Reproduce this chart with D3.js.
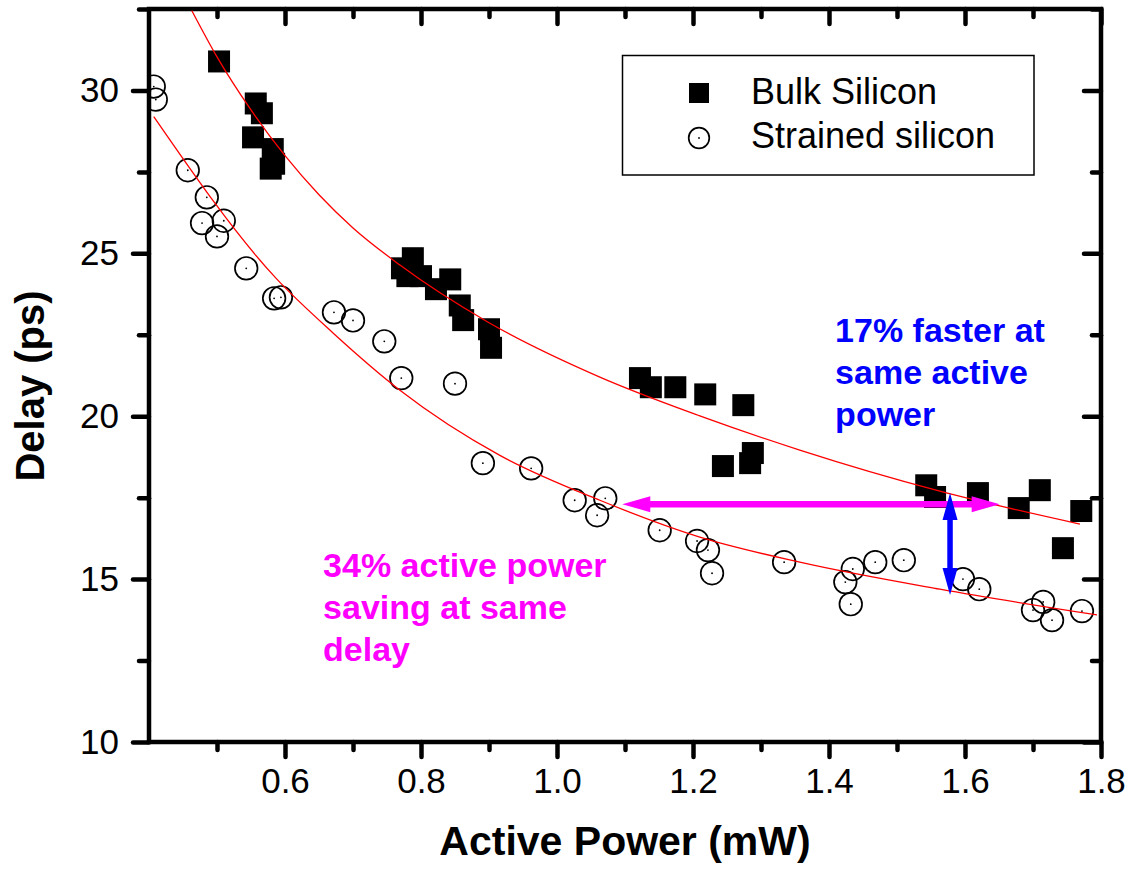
<!DOCTYPE html>
<html>
<head>
<meta charset="utf-8">
<script src="https://cdn.jsdelivr.net/npm/d3@7"></script>
<style>
  html, body { margin: 0; padding: 0; background: #fff; }
  svg { display: block; font-family: "Liberation Sans", Arial, sans-serif; }
</style>
</head>
<body>
<svg id="chart" width="1128" height="869"></svg>
<script>
// ---------------- data ----------------
const bulkX = [0.503, 0.557, 0.566, 0.553, 0.582, 0.584, 0.579,
  0.772, 0.788, 0.780, 0.800, 0.822, 0.843, 0.857, 0.862, 0.900, 0.903,
  1.122, 1.138, 1.174, 1.218, 1.274, 1.288, 1.244, 1.284,
  1.543, 1.556, 1.619, 1.679, 1.710, 1.771, 1.744];
const bulkY = [30.89, 29.60, 29.30, 28.56, 28.20, 27.75, 27.60,
  24.54, 24.85, 24.30, 24.30, 23.90, 24.20, 23.40, 22.95, 22.67, 22.10,
  21.17, 20.89, 20.89, 20.67, 20.34, 18.87, 18.47, 18.56,
  17.88, 17.52, 17.64, 17.18, 17.73, 17.09, 15.95];

const strainedX = [0.407, 0.410, 0.457, 0.485, 0.510, 0.478, 0.500, 0.543, 0.584, 0.594,
  0.672, 0.700, 0.746, 0.771, 0.850, 0.891, 0.962, 1.026, 1.059, 1.071,
  1.151, 1.206, 1.222, 1.228, 1.334, 1.435, 1.424, 1.432, 1.468, 1.510,
  1.597, 1.621, 1.700, 1.715, 1.728, 1.772];
const strainedY = [30.12, 29.72, 27.55, 26.72, 26.00, 25.93, 25.52, 24.54, 23.62, 23.65,
  23.19, 22.94, 22.30, 21.17, 21.00, 18.56, 18.40, 17.42, 16.96, 17.48,
  16.50, 16.17, 15.89, 15.18, 15.52, 15.31, 14.91, 14.23, 15.52, 15.58,
  15.00, 14.69, 14.05, 14.30, 13.74, 14.02];

// fitted curves
const fitBulkX = [0.463, 0.500, 0.550, 0.600, 0.650, 0.700, 0.769, 0.900, 1.063, 1.210, 1.357, 1.563, 1.769];
const fitBulkY = [32.45, 31.03, 29.40, 28.00, 26.80, 25.78, 24.64, 22.87, 21.20, 20.01, 18.96, 17.70, 16.69];
const fitStrX = [0.407, 0.587, 0.671, 0.769, 0.916, 1.063, 1.210, 1.357, 1.563, 1.794];
const fitStrY = [29.20, 24.23, 22.55, 20.80, 18.80, 17.42, 16.29, 15.52, 14.69, 13.90];

const xMajor = [0.6, 0.8, 1.0, 1.2, 1.4, 1.6, 1.8];
const xMinor = [0.5, 0.7, 0.9, 1.1, 1.3, 1.5, 1.7];
const yMajor = [10, 15, 20, 25, 30];
const yMinor = [12.5, 17.5, 22.5, 27.5, 32.5];

const seriesNames = ["Bulk Silicon", "Strained silicon"];

// annotations (data units)
const powerArrow = {x1: 1.096, x2: 1.651, y: 17.30};
const delayArrow = {x: 1.578, y1: 17.64, y2: 14.51};
const blueText = ["17% faster at", "same active", "power"];
const blueTextAt = [1.409, 22.27];
const magentaText = ["34% active power", "saving at same", "delay"];
const magentaTextAt = [0.656, 15.06];

// ---------------- layout ----------------
const L = 149, R = 1101, T = 9, B = 742;
const svg = d3.select("#chart");
const x = d3.scaleLinear().domain([0.4, 1.8]).range([L, R]);
const y = d3.scaleLinear().domain([10, 32.5]).range([B, T]);

svg.append("defs").append("clipPath").attr("id", "clip")
  .append("rect").attr("x", L).attr("y", T).attr("width", R - L).attr("height", B - T);

// ---------------- axes ----------------
const AX_W = 4.5;
function styleAxis(g) {
  g.select(".domain").remove();
  g.selectAll(".tick line").attr("stroke", "#000").attr("stroke-width", AX_W).attr("stroke-linecap", "round");
  g.selectAll(".tick text").attr("fill", "#000").style("font-size", "35px")
    .style("font-family", '"Liberation Sans", Arial, sans-serif');
}
// left
svg.append("g").attr("transform", `translate(${L},0)`)
  .call(d3.axisLeft(y).tickValues(yMajor).tickSize(16).tickPadding(14).tickFormat(d3.format("d")))
  .call(styleAxis);
svg.append("g").attr("transform", `translate(${L},0)`)
  .call(d3.axisLeft(y).tickValues(yMinor).tickSize(10).tickFormat(""))
  .call(styleAxis);
// right (inward)
svg.append("g").attr("transform", `translate(${R},0)`)
  .call(d3.axisLeft(y).tickValues(yMajor).tickSize(17).tickFormat(""))
  .call(styleAxis);
svg.append("g").attr("transform", `translate(${R},0)`)
  .call(d3.axisLeft(y).tickValues(yMinor).tickSize(9).tickFormat(""))
  .call(styleAxis);
// bottom
svg.append("g").attr("transform", `translate(0,${B})`)
  .call(d3.axisBottom(x).tickValues(xMajor).tickSize(15).tickPadding(11).tickFormat(d3.format(".1f")))
  .call(styleAxis);
svg.append("g").attr("transform", `translate(0,${B})`)
  .call(d3.axisBottom(x).tickValues(xMinor).tickSize(8).tickFormat(""))
  .call(styleAxis);
// top (inward)
svg.append("g").attr("transform", `translate(0,${T})`)
  .call(d3.axisBottom(x).tickValues(xMajor).tickSize(15).tickFormat(""))
  .call(styleAxis);
svg.append("g").attr("transform", `translate(0,${T})`)
  .call(d3.axisBottom(x).tickValues(xMinor).tickSize(8).tickFormat(""))
  .call(styleAxis);

// frame
svg.append("rect").attr("x", L).attr("y", T).attr("width", R - L).attr("height", B - T)
  .attr("fill", "none").attr("stroke", "#000").attr("stroke-width", AX_W);

// axis titles
svg.append("text").attr("x", (L + R) / 2).attr("y", 855)
  .attr("text-anchor", "middle").style("font-size", "41px").style("font-weight", "bold")
  .text("Active Power (mW)");
svg.append("text").attr("transform", "translate(44,386) rotate(-90)")
  .attr("text-anchor", "middle").style("font-size", "40px").style("font-weight", "bold")
  .text("Delay (ps)");

// ---------------- points ----------------
const plot = svg.append("g").attr("clip-path", "url(#clip)");
const bulk = bulkX.map((v, i) => ({x: v, y: bulkY[i]}));
const strained = strainedX.map((v, i) => ({x: v, y: strainedY[i]}));
const SQ = 22, CR = 11.3;

plot.selectAll("rect.bulk").data(bulk).join("rect").attr("class", "bulk")
  .attr("x", d => x(d.x) - SQ / 2).attr("y", d => y(d.y) - SQ / 2)
  .attr("width", SQ).attr("height", SQ).attr("fill", "#000");

const sg = plot.selectAll("g.str").data(strained).join("g").attr("class", "str")
  .attr("transform", d => `translate(${x(d.x)},${y(d.y)})`);
sg.append("circle").attr("r", CR).attr("fill", "none").attr("stroke", "#000").attr("stroke-width", 1.7);
sg.append("circle").attr("r", 0.9).attr("fill", "#000");

// ---------------- fit curves ----------------
const line = d3.line().x(d => x(d[0])).y(d => y(d[1])).curve(d3.curveMonotoneX);
plot.append("path").datum(fitBulkX.map((v, i) => [v, fitBulkY[i]]))
  .attr("d", line).attr("fill", "none").attr("stroke", "#ff0000").attr("stroke-width", 1.3);
plot.append("path").datum(fitStrX.map((v, i) => [v, fitStrY[i]]))
  .attr("d", line).attr("fill", "none").attr("stroke", "#ff0000").attr("stroke-width", 1.3);

// ---------------- arrows ----------------
function hArrow(x1, x2, yy, shaft, headL, headW, color) {
  const s = shaft / 2;
  const p = [
    [x1, yy], [x1 + headL, yy - headW], [x1 + headL, yy - s], [x2 - headL, yy - s],
    [x2 - headL, yy - headW], [x2, yy], [x2 - headL, yy + headW], [x2 - headL, yy + s],
    [x1 + headL, yy + s], [x1 + headL, yy + headW]
  ];
  svg.append("path").attr("d", "M" + p.map(q => q.join(",")).join("L") + "Z").attr("fill", color);
}
function vArrow(xx, y1, y2, shaft, headL, headW, color) {
  const s = shaft / 2;
  const p = [
    [xx, y1], [xx + headW, y1 + headL], [xx + s, y1 + headL], [xx + s, y2 - headL],
    [xx + headW, y2 - headL], [xx, y2], [xx - headW, y2 - headL], [xx - s, y2 - headL],
    [xx - s, y1 + headL], [xx - headW, y1 + headL]
  ];
  svg.append("path").attr("d", "M" + p.map(q => q.join(",")).join("L") + "Z").attr("fill", color);
}
hArrow(x(powerArrow.x1), x(powerArrow.x2), y(powerArrow.y), 6.5, 28, 8, "#ff00ff");
vArrow(x(delayArrow.x), y(delayArrow.y1), y(delayArrow.y2), 5.5, 27, 7.5, "#0000ff");

// ---------------- annotation text ----------------
function block(lines, at, color) {
  const t = svg.append("text").attr("x", x(at[0])).attr("y", y(at[1]))
    .attr("fill", color).style("font-size", "34px").style("font-weight", "bold");
  lines.forEach((s, i) => t.append("tspan").attr("x", x(at[0])).attr("dy", i === 0 ? 0 : 42).text(s));
}
block(blueText, blueTextAt, "#0000ff");
block(magentaText, magentaTextAt, "#ff00ff");

// ---------------- legend ----------------
const lg = svg.append("g");
lg.append("rect").attr("x", 622.5).attr("y", 55.5).attr("width", 411.5).attr("height", 119.5)
  .attr("fill", "#fff").attr("stroke", "#000").attr("stroke-width", 1.5);
lg.append("rect").attr("x", 699 - 10).attr("y", 93 - 10).attr("width", 20).attr("height", 20).attr("fill", "#000");
lg.append("circle").attr("cx", 699).attr("cy", 138).attr("r", 10.3).attr("fill", "none").attr("stroke", "#000").attr("stroke-width", 1.7);
lg.append("circle").attr("cx", 699).attr("cy", 138).attr("r", 0.9).attr("fill", "#000");
lg.selectAll("text.lt").data(seriesNames).join("text").attr("class", "lt")
  .attr("x", 751).attr("y", (d, i) => 104 + i * 44)
  .style("font-size", "36px").text(d => d);
</script>
</body>
</html>
